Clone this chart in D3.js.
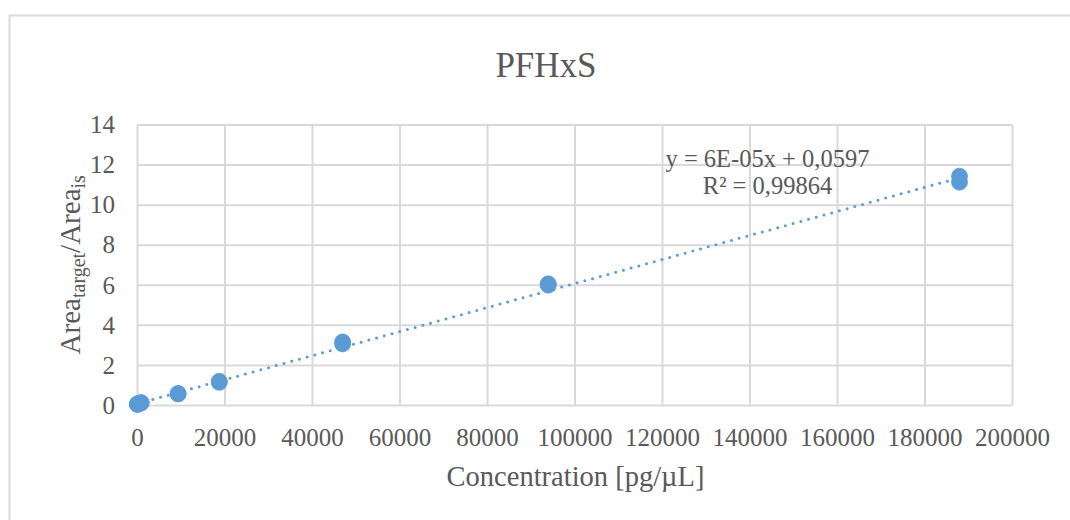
<!DOCTYPE html>
<html>
<head>
<meta charset="utf-8">
<script src="https://cdn.jsdelivr.net/npm/d3@7"></script>
<style>
  html, body { margin: 0; padding: 0; background: #ffffff; }
  svg { display: block; }
  text { font-family: "Liberation Serif", "DejaVu Serif", serif; fill: #595959; }
</style>
</head>
<body>
<svg id="chart" width="1070" height="520"></svg>
<script>
// Calibration standards: concentration (pg/µL) and measured area ratio (target / internal standard)
const concentration = [94, 94, 188, 188, 470, 470, 940, 940, 9400, 9400, 18800, 18800, 47000, 47000, 94000, 94000, 188000, 188000];
const areaRatio     = [0.03, 0.04, 0.05, 0.06, 0.07, 0.08, 0.10, 0.12, 0.55, 0.58, 1.13, 1.18, 3.05, 3.15, 5.98, 6.05, 11.12, 11.42];

// Linear trendline as reported
const trendSlope = 6e-5;
const trendIntercept = 0.0597;
const trendLabel = "y = 6E-05x + 0,0597";
const r2Label = "R² = 0,99864";

const xTicks = [0, 20000, 40000, 60000, 80000, 100000, 120000, 140000, 160000, 180000, 200000];
const yTicks = [0, 2, 4, 6, 8, 10, 12, 14];

const chartTitle = "PFHxS";
const xTitle = "Concentration [pg/µL]";

const svg = d3.select("#chart");
const W = 1070, H = 520;
const plot = { left: 137, right: 1012, top: 124.5, bottom: 405 };

// outer chart frame (extends past the right and bottom edges)
svg.append("rect")
  .attr("x", 9.5).attr("y", 15.5)
  .attr("width", W + 20).attr("height", H + 20)
  .attr("fill", "#ffffff")
  .attr("stroke", "#d9d9d9").attr("stroke-width", 2);

const x = d3.scaleLinear().domain([0, 200000]).range([plot.left, plot.right]);
const y = d3.scaleLinear().domain([0, 14]).range([plot.bottom, plot.top]);

// vertical gridlines
svg.append("g")
  .attr("transform", `translate(0,${plot.bottom})`)
  .call(d3.axisBottom(x).tickValues(xTicks).tickSize(-(plot.bottom - plot.top)).tickFormat(""))
  .call(g => g.select(".domain").remove())
  .call(g => g.selectAll("line").attr("stroke", "#d9d9d9").attr("stroke-width", 2));

// horizontal gridlines
svg.append("g")
  .attr("transform", `translate(${plot.left},0)`)
  .call(d3.axisLeft(y).tickValues(yTicks).tickSize(-(plot.right - plot.left)).tickFormat(""))
  .call(g => g.select(".domain").remove())
  .call(g => g.selectAll("line").attr("stroke", "#d9d9d9").attr("stroke-width", 2));

// x tick labels
svg.append("g")
  .attr("transform", `translate(0,${plot.bottom})`)
  .call(d3.axisBottom(x).tickValues(xTicks).tickSize(0).tickPadding(0).tickFormat(d3.format("d")))
  .call(g => g.select(".domain").remove())
  .call(g => g.selectAll("text")
    .attr("y", 41).attr("dy", null)
    .style("font-family", '"Liberation Serif", serif')
    .style("font-size", "25px").style("fill", "#595959"));

// y tick labels
svg.append("g")
  .attr("transform", `translate(${plot.left},0)`)
  .call(d3.axisLeft(y).tickValues(yTicks).tickSize(0).tickPadding(0).tickFormat(d3.format("d")))
  .call(g => g.select(".domain").remove())
  .call(g => g.selectAll("text")
    .attr("x", -22).attr("dy", "0.33em")
    .style("font-family", '"Liberation Serif", serif')
    .style("font-size", "25px").style("fill", "#595959"));

// trendline over the range of the standards
const xExt = d3.extent(concentration);
const trend = xExt.map(c => [c, trendSlope * c + trendIntercept]);
svg.append("path")
  .datum(trend)
  .attr("d", d3.line().x(d => x(d[0])).y(d => y(d[1])))
  .attr("fill", "none")
  .attr("stroke", "#5b9bd5")
  .attr("stroke-width", 3)
  .attr("stroke-linecap", "round")
  .attr("stroke-dasharray", "0 8");

// markers
svg.append("g")
  .selectAll("circle")
  .data(concentration.map((c, i) => [c, areaRatio[i]]))
  .join("circle")
  .attr("cx", d => x(d[0]))
  .attr("cy", d => y(d[1]))
  .attr("r", 8)
  .attr("fill", "#5b9bd5")
  .attr("stroke", "#5b9bd5")
  .attr("stroke-width", 0.75);

// trendline equation
const eq = svg.append("text")
  .attr("text-anchor", "middle")
  .style("font-size", "24.5px");
eq.append("tspan").attr("x", 767.5).attr("y", 166.5).text(trendLabel);
eq.append("tspan").attr("x", 767.5).attr("y", 193.5).text(r2Label);

// chart title
svg.append("text")
  .attr("x", 546).attr("y", 77)
  .attr("text-anchor", "middle")
  .style("font-size", "35px")
  .text(chartTitle);

// x axis title
svg.append("text")
  .attr("x", 575.5).attr("y", 486)
  .attr("text-anchor", "middle")
  .style("font-size", "28.5px")
  .text(xTitle);

// y axis title with subscripts
const yt = svg.append("text")
  .attr("transform", `translate(80,${(plot.top + plot.bottom) / 2}) rotate(-90)`)
  .attr("text-anchor", "middle")
  .style("font-size", "29px");
yt.append("tspan").text("Area");
yt.append("tspan").attr("dy", 5).style("font-size", "20px").text("target");
yt.append("tspan").attr("dy", -5).text("/Area");
yt.append("tspan").attr("dy", 5).style("font-size", "20px").text("is");
</script>
</body>
</html>
